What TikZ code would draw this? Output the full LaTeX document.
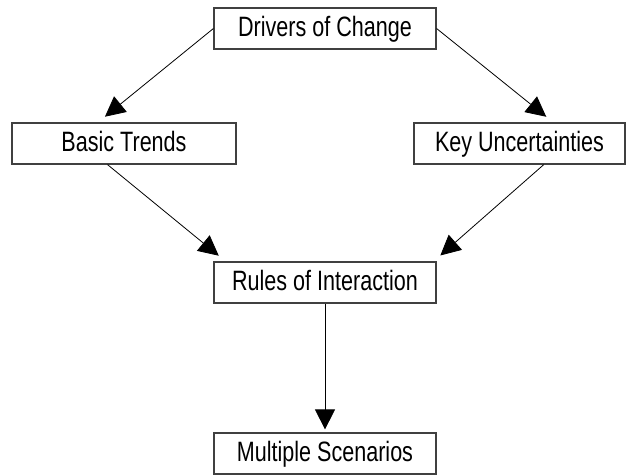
\documentclass[tikz,border=0pt]{standalone}
\usepackage{fontspec}
\setmainfont{Liberation Sans}[FakeStretch=0.77]
\usepackage{tikz}
\usetikzlibrary{arrows.meta}
\tikzset{
  flownode/.style = {align=center, inner sep=0pt, text centered,
    font=\fontsize{28}{32}\selectfont, text height=20pt, text depth=3.6pt},
  scn_box/.style = {flownode, rectangle, draw=black!75, line width=1.2pt,
    fill=white, minimum width=222pt, minimum height=41pt},% boite, etape du scenario
  scn_arr/.style = {->, line width=0.8pt, shorten >=9pt}% fleche entre etapes
}
\begin{document}
\begin{tikzpicture}[x=1pt,y=-1pt,>={Triangle[length=20pt,width=20pt]}]
        \useasboundingbox (0,0) rectangle (629,475);
        \node [scn_box] (drv) at (325,28.5) {Drivers of Change};
        \node [scn_box, minimum width=224pt] (bt) at (124,143.5) {Basic Trends};
        \node [scn_box, minimum width=211pt] (ku) at (519.5,143.5) {Key Uncertainties};
        \node [scn_box] (ri) at (325,282.5) {Rules of Interaction};
        \node [scn_box] (ms) at (325,453.5) {Multiple Scenarios};

        \draw [scn_arr] (drv.west) -- (bt.141);
        \draw [scn_arr] (drv.east) -- (ku.32);
        \draw [scn_arr] (bt.232) -- (ri.168);
        \draw [scn_arr] (ku.-41) -- (ri.11);
        \draw [scn_arr, shorten >=3pt] (ri) -- (ms);
\end{tikzpicture}
\end{document}
